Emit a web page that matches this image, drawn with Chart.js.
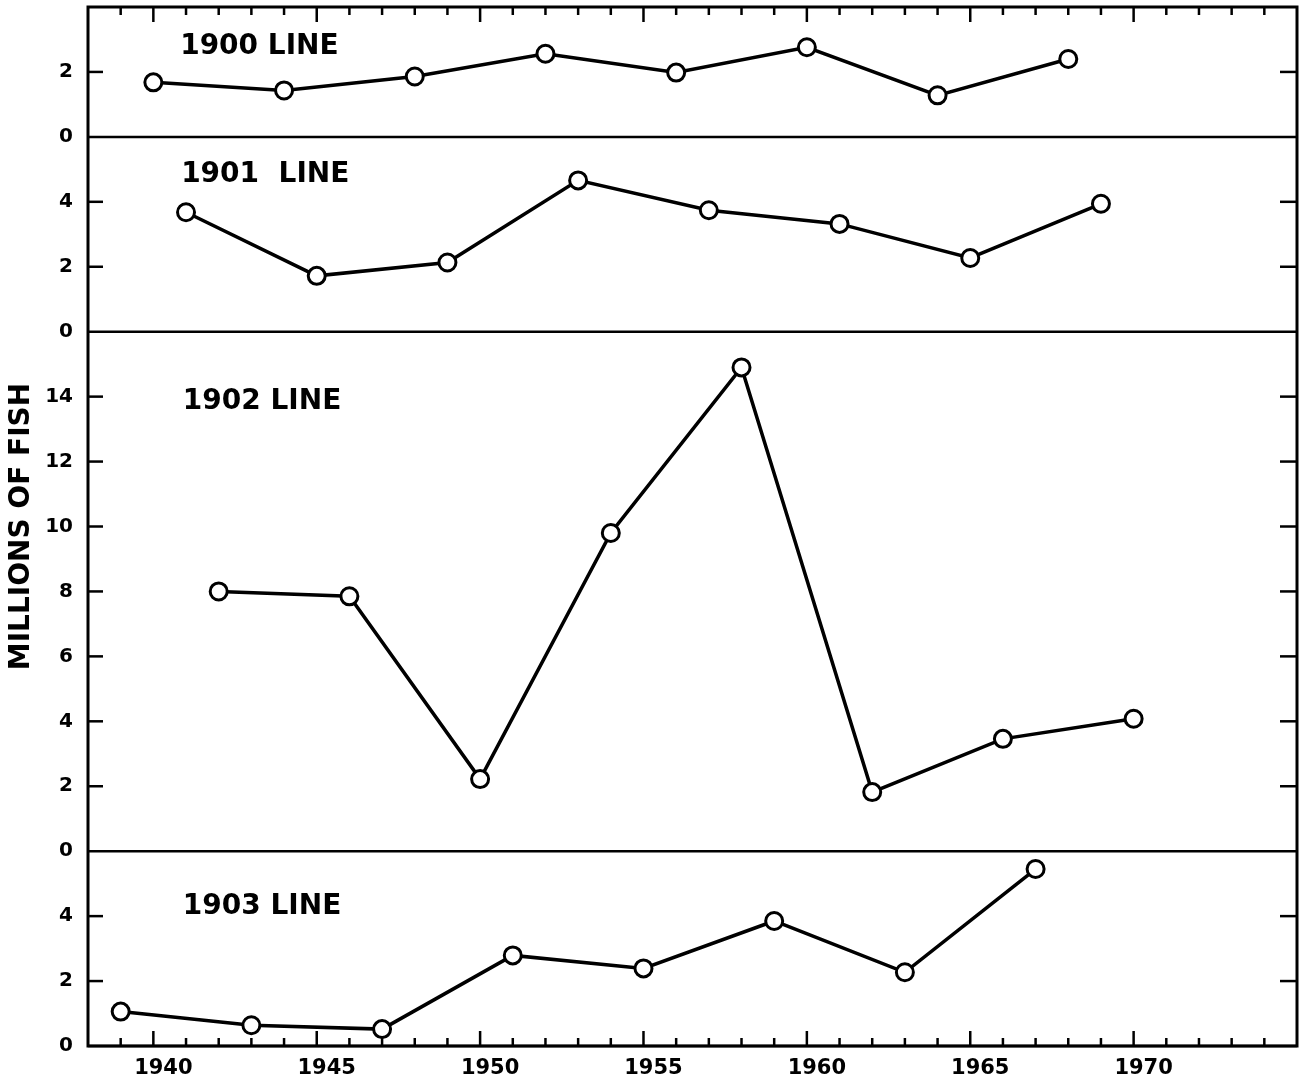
<!DOCTYPE html>
<html>
<head>
<meta charset="utf-8">
<script src="https://cdn.jsdelivr.net/npm/chart.js@4/dist/chart.umd.min.js"></script>
<style>
  html, body { margin: 0; background: #fff; }
  #wrap { width: 1309px; height: 1085px; }
</style>
</head>
<body>
<div id="wrap"><canvas id="myChart"></canvas></div>
<script>
// data (millions of fish per year, by parent line)
const years1900 = [1940, 1944, 1948, 1952, 1956, 1960, 1964, 1968];
const fish1900  = [1.68, 1.43, 1.86, 2.56, 1.98, 2.76, 1.28, 2.40];

const years1901 = [1941, 1945, 1949, 1953, 1957, 1961, 1965, 1969];
const fish1901  = [3.68, 1.72, 2.13, 4.66, 3.74, 3.32, 2.27, 3.94];

const years1902 = [1942, 1946, 1950, 1954, 1958, 1962, 1966, 1970];
const fish1902  = [8.0, 7.85, 2.22, 9.8, 14.9, 1.82, 3.46, 4.08];

const years1903 = [1939, 1943, 1947, 1951, 1955, 1959, 1963, 1967];
const fish1903  = [1.06, 0.64, 0.52, 2.79, 2.39, 3.85, 2.27, 5.45];

const yearTicks = [1940, 1945, 1950, 1955, 1960, 1965, 1970];
const ticks1900 = [0, 2];
const ticks1901 = [0, 2, 4];
const ticks1902 = [0, 2, 4, 6, 8, 10, 12, 14];
const ticks1903 = [0, 2, 4];
const panelNames = ['1900 LINE', '1901  LINE', '1902 LINE', '1903 LINE'];

Chart.defaults.font.family = '"DejaVu Sans", sans-serif';
Chart.defaults.font.weight = 'bold';
Chart.defaults.color = '#000';

const pts = (xs, ys) => xs.map((x, i) => ({ x: x, y: ys[i] }));

function lineSet(label, xs, ys, axis) {
  return {
    label: label,
    data: pts(xs, ys),
    yAxisID: axis,
    borderColor: '#000',
    borderWidth: 3.5,
    pointRadius: 8.5,
    pointHoverRadius: 8.5,
    pointBorderWidth: 3,
    pointBackgroundColor: '#fff',
    pointBorderColor: '#000',
    tension: 0
  };
}

function yAxis(max, weight, tickList) {
  return {
    type: 'linear',
    position: 'left',
    stack: 'fish',
    stackWeight: weight,
    min: 0,
    max: max,
    grid: { display: false, drawTicks: false },
    border: { display: false },
    afterBuildTicks: s => { s.ticks = tickList.map(v => ({ value: v })); },
    afterFit: s => { s.width = 42; s.paddingTop = 0; s.paddingBottom = 0; },
    ticks: { padding: 15, font: { size: 20 }, callback: v => String(v) }
  };
}

// panel labels sit at (year, value) inside each panel
const labelSpots = [
  { axis: 'y1900', x: 1940.82, y: 2.77 },
  { axis: 'y1901', x: 1940.85, y: 4.82 },
  { axis: 'y1902', x: 1940.9, y: 13.83 },
  { axis: 'y1903', x: 1940.9, y: 4.3 }
];
const panelTicks = { y1900: ticks1900, y1901: ticks1901, y1902: ticks1902, y1903: ticks1903 };

const frame = {
  id: 'frame',
  beforeDatasetsDraw(chart) {
    const { ctx, chartArea: a, scales } = chart;
    const seg = (x1, y1, x2, y2) => { ctx.beginPath(); ctx.moveTo(x1, y1); ctx.lineTo(x2, y2); ctx.stroke(); };
    ctx.save();
    ctx.strokeStyle = '#000';
    ctx.lineWidth = 3;
    ctx.strokeRect(a.left, a.top, a.right - a.left, a.bottom - a.top);

    ctx.lineWidth = 2.5;
    Object.keys(panelTicks).forEach(id => {
      const s = scales[id];
      const y0 = s.getPixelForValue(0);
      seg(a.left, y0, a.right, y0);
      panelTicks[id].forEach(v => {
        if (v === 0) return;
        const y = s.getPixelForValue(v);
        seg(a.left, y, a.left + 15, y);
        seg(a.right - 17, y, a.right, y);
      });
    });

    const xs = scales.x;
    for (let yr = 1939; yr <= 1974; yr++) {
      const px = xs.getPixelForValue(yr);
      const len = yr % 5 === 0 ? 15 : 8;
      seg(px, a.bottom, px, a.bottom - len);
      seg(px, a.top, px, a.top + len);
    }

    ctx.fillStyle = '#000';
    ctx.font = 'bold 28px "DejaVu Sans"';
    ctx.textAlign = 'left';
    ctx.textBaseline = 'middle';
    labelSpots.forEach((p, i) => {
      ctx.fillText(panelNames[i], xs.getPixelForValue(p.x), scales[p.axis].getPixelForValue(p.y));
    });

    ctx.translate(22, (a.top + a.bottom) / 2);
    ctx.rotate(-Math.PI / 2);
    ctx.textAlign = 'center';
    ctx.fillText('MILLIONS OF FISH', 0, 0);
    ctx.restore();
  }
};

new Chart(document.getElementById('myChart'), {
  type: 'line',
  data: {
    datasets: [
      lineSet('1900 line', years1900, fish1900, 'y1900'),
      lineSet('1901 line', years1901, fish1901, 'y1901'),
      lineSet('1902 line', years1902, fish1902, 'y1902'),
      lineSet('1903 line', years1903, fish1903, 'y1903')
    ]
  },
  options: {
    responsive: true,
    maintainAspectRatio: false,
    animation: false,
    layout: { autoPadding: false, padding: { left: 46, right: 12, top: 7, bottom: 0 } },
    plugins: { legend: { display: false }, tooltip: { enabled: false } },
    scales: {
      x: {
        type: 'linear',
        min: 1938,
        max: 1975,
        grid: { display: false, drawTicks: false },
        border: { display: false },
        afterBuildTicks: s => { s.ticks = yearTicks.map(v => ({ value: v })); },
        afterFit: s => { s.height = 39; s.paddingLeft = 0; s.paddingRight = 0; },
        ticks: { padding: 10, labelOffset: 10, autoSkip: false, maxRotation: 0, font: { size: 21 }, callback: v => String(v) }
      },
      y1903: yAxis(6, 6, ticks1903),
      y1902: yAxis(16, 16, ticks1902),
      y1901: yAxis(6, 6, ticks1901),
      y1900: yAxis(4, 4, ticks1900)
    }
  },
  plugins: [frame]
});
</script>
</body>
</html>
